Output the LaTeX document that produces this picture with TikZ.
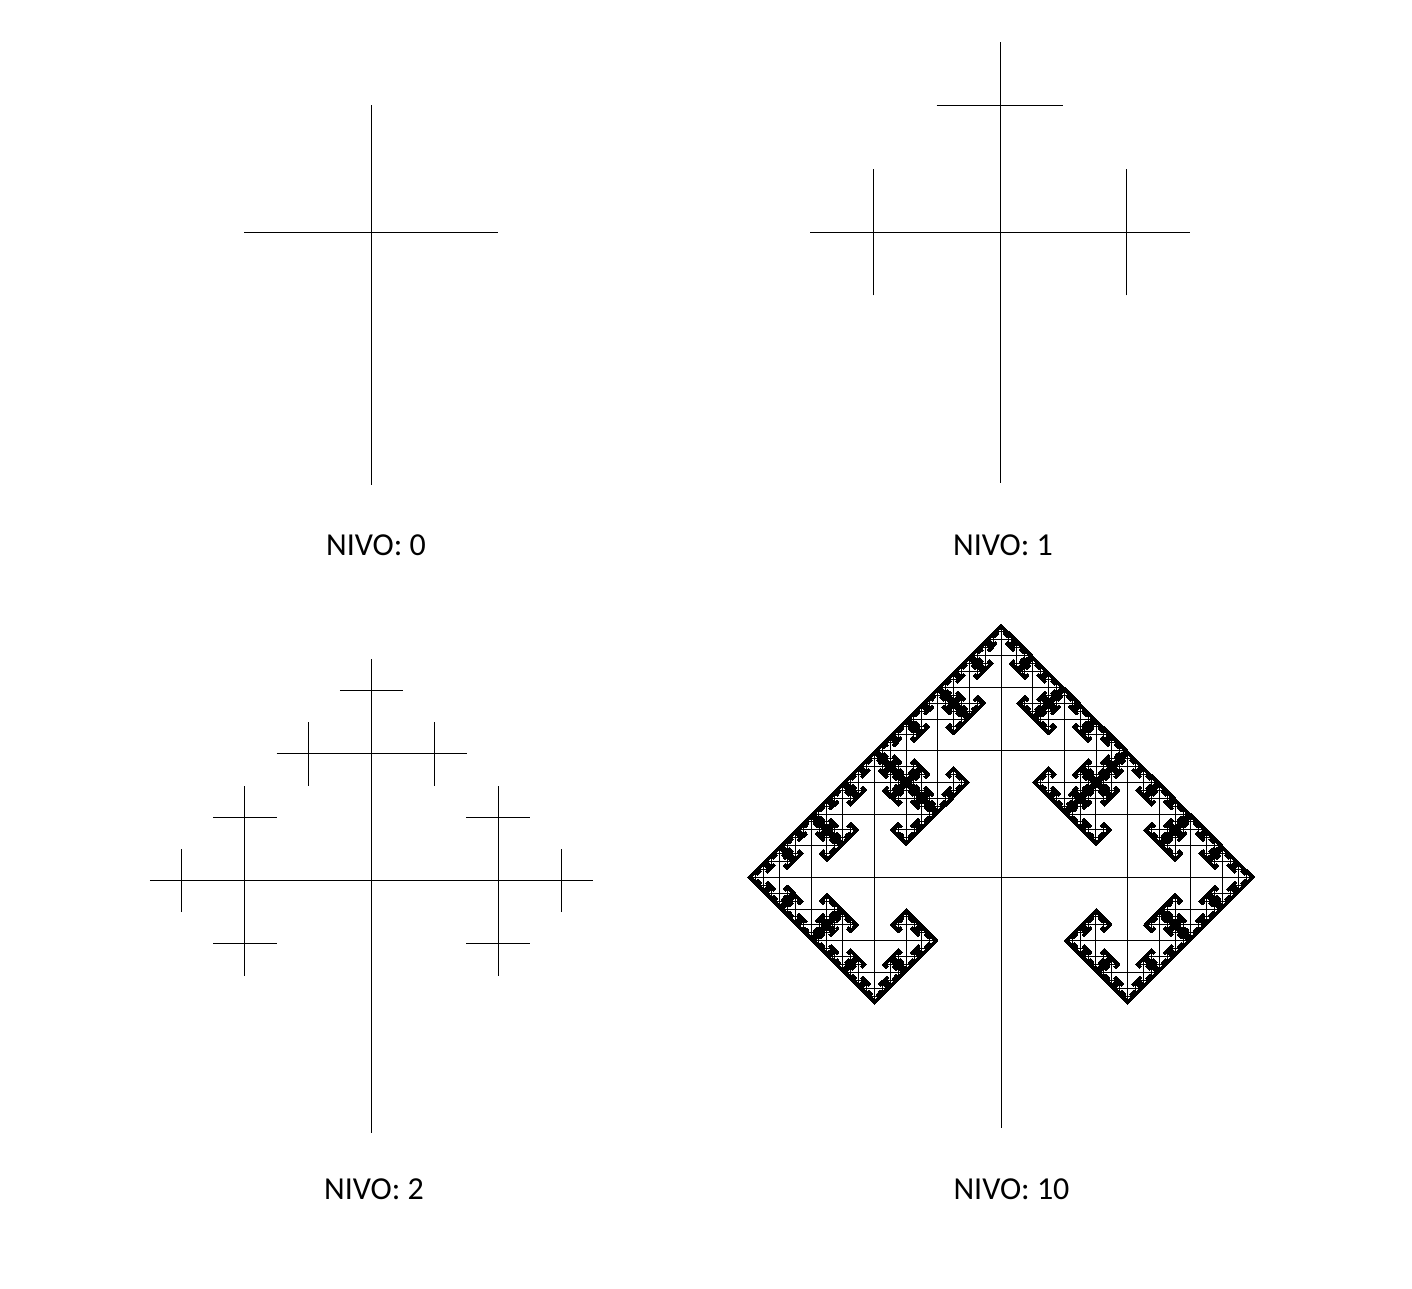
\documentclass[tikz,border=0pt]{standalone}
\usepackage{fontspec}
\setmainfont{Carlito}
\makeatletter
% fractal cross tree, coordinates in 1/16 pt (integers)
\def\ftdx#1{\ifcase#1 1\or 0\or -1\or 0\fi}
\def\ftdy#1{\ifcase#1 0\or 1\or 0\or -1\fi}
\def\ftgobble#1#2#3#4#5{}
% line width: tiny crosses slightly heavier (they stand for the deeper levels)
\def\ftw#1{\ifnum#1<20 28\else\ifnum#1<40 22\else 16\fi\fi}
\def\ftree#1#2#3#4#5{%
  \pgfsys@invoke{\ftw{#3} w \the\numexpr#1-#3\relax\space#2 m \the\numexpr#1+#3\relax\space#2 l #1 \the\numexpr#2-#3\relax\space m #1 \the\numexpr#2+#3\relax\space l S}%
  \ifnum#5>0 \expandafter\ftkids\else\expandafter\ftgobble\fi
  {#1}{#2}{#3}{#4}{#5}}
\def\ftkids#1#2#3#4#5{%
  \edef\ftdirs{\ifcase#4 {0}{1}{3}\or{1}{2}{0}\or{2}{3}{1}\or{3}{0}{2}\fi}%
  \expandafter\ftkidsB\ftdirs{#1}{#2}{#3}{#5}}
\def\ftkidsB#1#2#3#4#5#6#7{%
  \ftchild{#4}{#5}{#6}{#1}{#7}%
  \ftchild{#4}{#5}{#6}{#2}{#7}%
  \ftchild{#4}{#5}{#6}{#3}{#7}}
\def\ftchild#1#2#3#4#5{%
  \edef\ftnext{\noexpand\ftree{\the\numexpr#1+#3*\ftdx{#4}\relax}{\the\numexpr#2+#3*\ftdy{#4}\relax}{\the\numexpr#3/2\relax}{#4}{\the\numexpr#5-1\relax}}%
  \ftnext}
% root: x y l trunk-end-y depth
\def\ftroot#1#2#3#4#5{%
  \pgfsys@invoke{16 w #1 #2 m #1 #4 l S}%
  \ftree{#1}{#2}{#3}{1}{#5}}
% PDF literal units are bp: 1/16 pt = 0.0625*72/72.27 bp
\def\ftbegin{\pgfsys@beginscope\pgfsys@invoke{0.0622665 0 0 0.0622665 0 0 cm 16 w}}
\def\ftend{\pgfsys@endscope}
\makeatother
\tikzset{lbl/.style={anchor=base, inner sep=0pt, font=\fontsize{32}{38}\selectfont}}
\begin{document}
\begin{tikzpicture}[x=1pt,y=-1pt]
\useasboundingbox[fill=white] (0,0) rectangle (1412,1288);
\ftbegin
\ftroot{5936}{-3712}{2026}{-7760}{0}
\ftroot{16000}{-3712}{2026}{-7728}{1}
\ftroot{5944}{-14088}{2026}{-18128}{2}
\ftroot{16016}{-14037}{2026}{-18043}{9}
\ftend
\node[lbl] (nivo0) at (376,555) {NIVO: 0};
\node[lbl] (nivo1) at (1003,555) {NIVO: 1};
\node[lbl] (nivo2) at (374,1199) {NIVO: 2};
\node[lbl] (nivo10) at (1011.5,1199) {NIVO: 10};
\end{tikzpicture}
\end{document}
